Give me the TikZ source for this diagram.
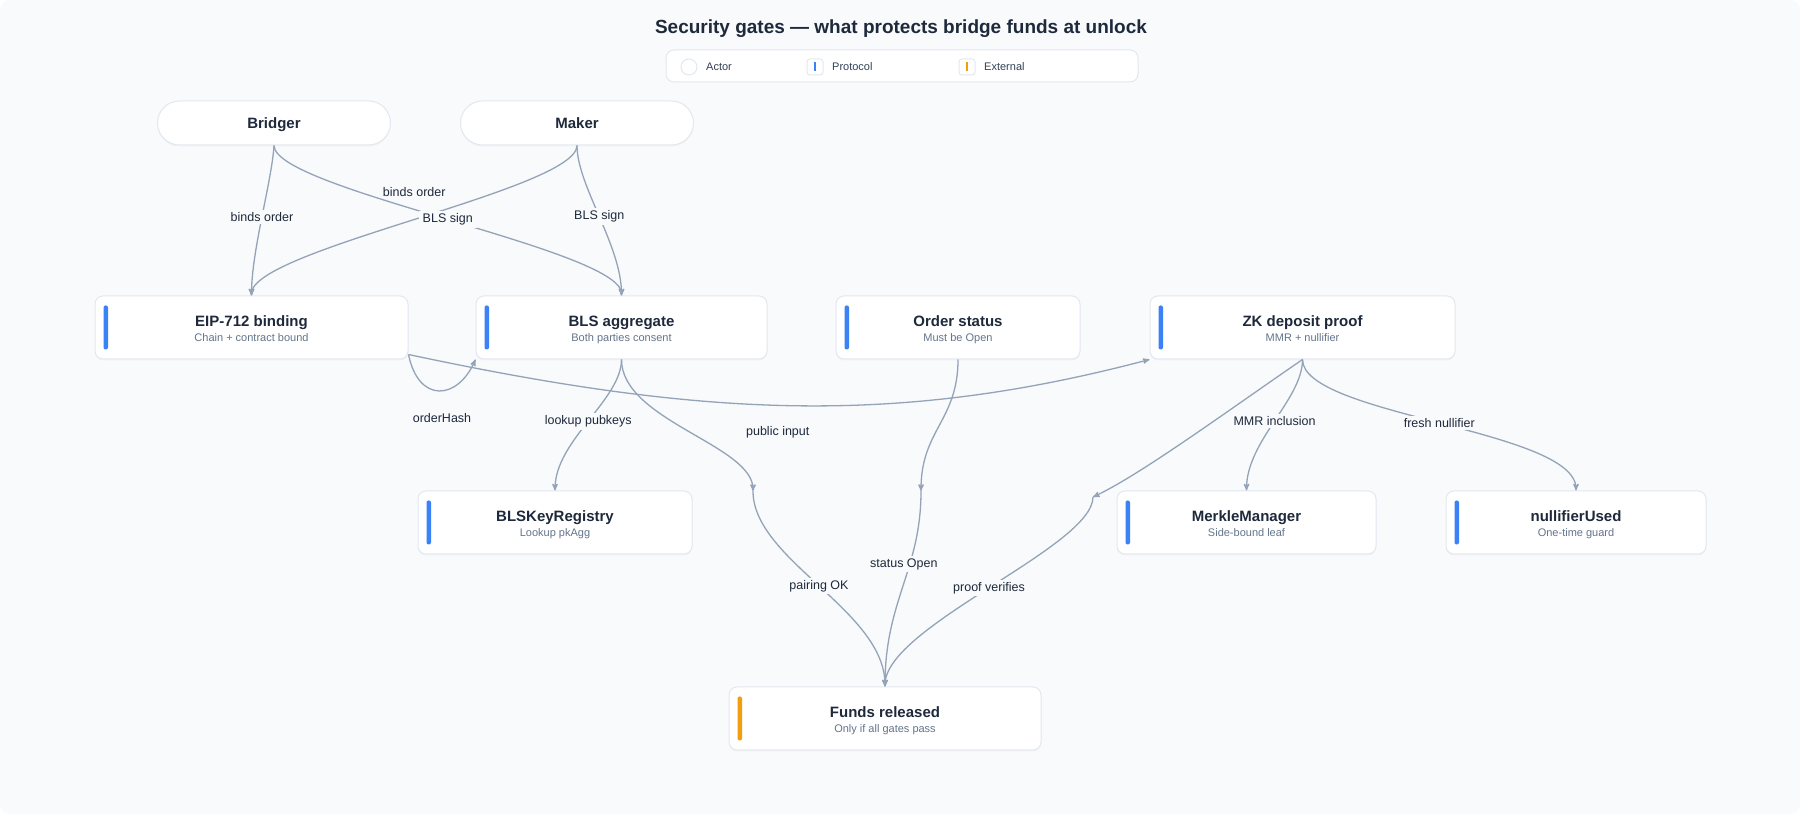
\documentclass[tikz,border=0pt]{standalone}
\usepackage{fontspec}
\setmainfont{Liberation Sans}
\usepackage{xcolor}
\usepackage{tikz}
\usetikzlibrary{calc}
\usetikzlibrary{arrows}
\usetikzlibrary{shadows}
\definecolor{bg}{HTML}{F8FAFC}
\definecolor{cardline}{HTML}{E2E8F0}
\definecolor{wirecol}{HTML}{94A3B8}
\definecolor{ink}{HTML}{1E293B}
\definecolor{sub}{HTML}{64748B}
\definecolor{legcol}{HTML}{334155}
\definecolor{protocol}{HTML}{3B82F6}
\definecolor{external}{HTML}{F59E0B}
\tikzset{
  actor/.style={draw=cardline, line width=1pt, fill=white, rounded corners=22pt,
    minimum width=233pt, minimum height=44pt, text=ink,
    font=\fontsize{15}{16}\selectfont\bfseries, text height=10.7pt, text depth=0pt,
    drop shadow={shadow xshift=0pt, shadow yshift=-1.5pt, opacity=.06}},
  gate/.style={draw=cardline, line width=1pt, fill=white, rounded corners=8pt,
    minimum height=63pt, inner sep=0pt, align=center, text=ink,
    font=\fontsize{15}{15.6}\selectfont\bfseries, text height=29pt, text depth=0pt,
    drop shadow={shadow xshift=0pt, shadow yshift=-1.5pt, opacity=.06}},
  link/.style={wirecol, line width=1.3pt, ->, >=stealth'},
  lbl/.style={fill=bg, inner xsep=4pt, inner ysep=2.5pt, text=ink,
    font=\fontsize{12.5}{14}\selectfont},
  legtxt/.style={anchor=west, inner sep=0pt, text=legcol, font=\fontsize{11}{13}\selectfont},
}
\newcommand{\gatesub}[1]{{\fontsize{11}{15.6}\selectfont\mdseries\color{sub}#1}}

\begin{document}
\begin{tikzpicture}[x=1pt,y=1pt]
\useasboundingbox (0,0) rectangle (1800,814);
\fill[white] (0,0) rectangle (1800,814);
\fill[bg, rounded corners=10pt] (0,0) rectangle (1800,814);

\node[font=\fontsize{19}{22}\selectfont\bfseries, text=ink] (title) at (901,785) {Security gates — what protects bridge funds at unlock};

\node[draw=cardline, line width=1pt, fill=white, rounded corners=8pt, minimum width=472pt, minimum height=32pt] (legend) at (902,748) {};
\node[circle, draw=cardline, line width=1pt, fill=white, minimum size=16pt, inner sep=0pt] (legactor) at (689,747) {};
\node[legtxt] at (706,747) {Actor};
\foreach \x/\c/\t in {815/protocol/Protocol, 967/external/External} {
  \node[draw=cardline, line width=1pt, fill=white, rounded corners=3pt, minimum size=16pt, inner sep=0pt] (leg\c) at (\x,747) {};
  \fill[\c] ($(leg\c)+(-1.3,-4.5)$) rectangle ($(leg\c)+(1.3,4.5)$);
  \node[legtxt] at (\x+17,747) {\t};
}

\node[actor] (bridger) at (274,691) {Bridger};
\node[actor] (maker) at (577,691) {Maker};

\node[gate, minimum width=313pt] (eip) at (251.5,486.5) {EIP-712 binding\\\gatesub{Chain + contract bound}};
\node[gate, minimum width=291pt] (bls) at (621.5,486.5) {BLS aggregate\\\gatesub{Both parties consent}};
\node[gate, minimum width=244pt] (ord) at (958,486.5) {Order status\\\gatesub{Must be Open}};
\node[gate, minimum width=305pt] (zk) at (1302.5,486.5) {ZK deposit proof\\\gatesub{MMR + nullifier}};
\node[gate, minimum width=274pt] (reg) at (555,291.5) {BLSKeyRegistry\\\gatesub{Lookup pkAgg}};
\node[gate, minimum width=259pt] (mmr) at (1246.5,291.5) {MerkleManager\\\gatesub{Side-bound leaf}};
\node[gate, minimum width=260pt] (nul) at (1576,291.5) {nullifierUsed\\\gatesub{One-time guard}};
\node[gate, minimum width=312pt] (funds) at (885,95.5) {Funds released\\\gatesub{Only if all gates pass}};

\foreach \n/\c in {eip/protocol, bls/protocol, ord/protocol, zk/protocol, reg/protocol, mmr/protocol, nul/protocol, funds/external}
  \fill[\c, rounded corners=2pt] ([xshift=9pt,yshift=-10pt]\n.north west) rectangle ([xshift=13.5pt,yshift=10pt]\n.south west);

\coordinate (jbls) at (753,323);
\coordinate (jord) at (921,323);
\coordinate (jzk) at (1093,317);

\draw[link] (bridger.south) .. controls +(-2,-35) and +(0,45) .. node[lbl, pos=.5] {binds order} (eip.north);
\draw[link] (maker.south) .. controls +(0,-44) and +(0,46) .. node[lbl, pos=.5, yshift=28pt] {binds order} (eip.north);
\draw[link] (bridger.south) .. controls +(0,-44) and +(0,46) .. node[lbl, pos=.5] {BLS sign} (bls.north);
\draw[link] (maker.south) .. controls +(0,-40) and +(0,50) .. node[lbl, pos=.5] {BLS sign} (bls.north);

\draw[link] ([yshift=5pt]eip.south east) .. controls +(10,-49) and +(-18,-41) .. node[lbl, pos=.5, xshift=3pt, yshift=-27pt] {orderHash} (bls.south west);
\draw[link] ([yshift=5pt]eip.south east) .. controls +(300,-64) and +(-250,-66) .. node[lbl, pos=.5, xshift=-20pt, yshift=-27pt] {public input} (zk.south west);
\draw[link] (bls.south) .. controls +(0,-40) and +(0,50) .. node[lbl, pos=.5] {lookup pubkeys} (reg.north);

\draw[link] (bls.south) .. controls +(0,-61) and +(0,46) .. (jbls);
\draw[link] (jbls) .. controls +(0,-69) and +(0,76) .. node[lbl, pos=.5] {pairing OK} (funds.north);
\draw[link] (ord.south) .. controls +(0,-61) and +(0,61) .. (jord);
\draw[link] (jord) .. controls +(0,-79) and +(0,86) .. node[lbl, pos=.37, xshift=-6pt] {status Open} (funds.north);
\draw[link] (zk.south) .. controls +(-80,-55) and +(47,22) .. (jzk);
\draw[link] (jzk) .. controls +(0,-50) and +(0,60) .. node[lbl, pos=.5] {proof verifies} (funds.north);

\draw[link] (zk.south) .. controls +(0,-40) and +(0,50) .. node[lbl, pos=.5] {MMR inclusion} (mmr.north);
\draw[link] (zk.south) .. controls +(0,-56) and +(0,61) .. node[lbl, pos=.5] {fresh nullifier} (nul.north);
\end{tikzpicture}
\end{document}
